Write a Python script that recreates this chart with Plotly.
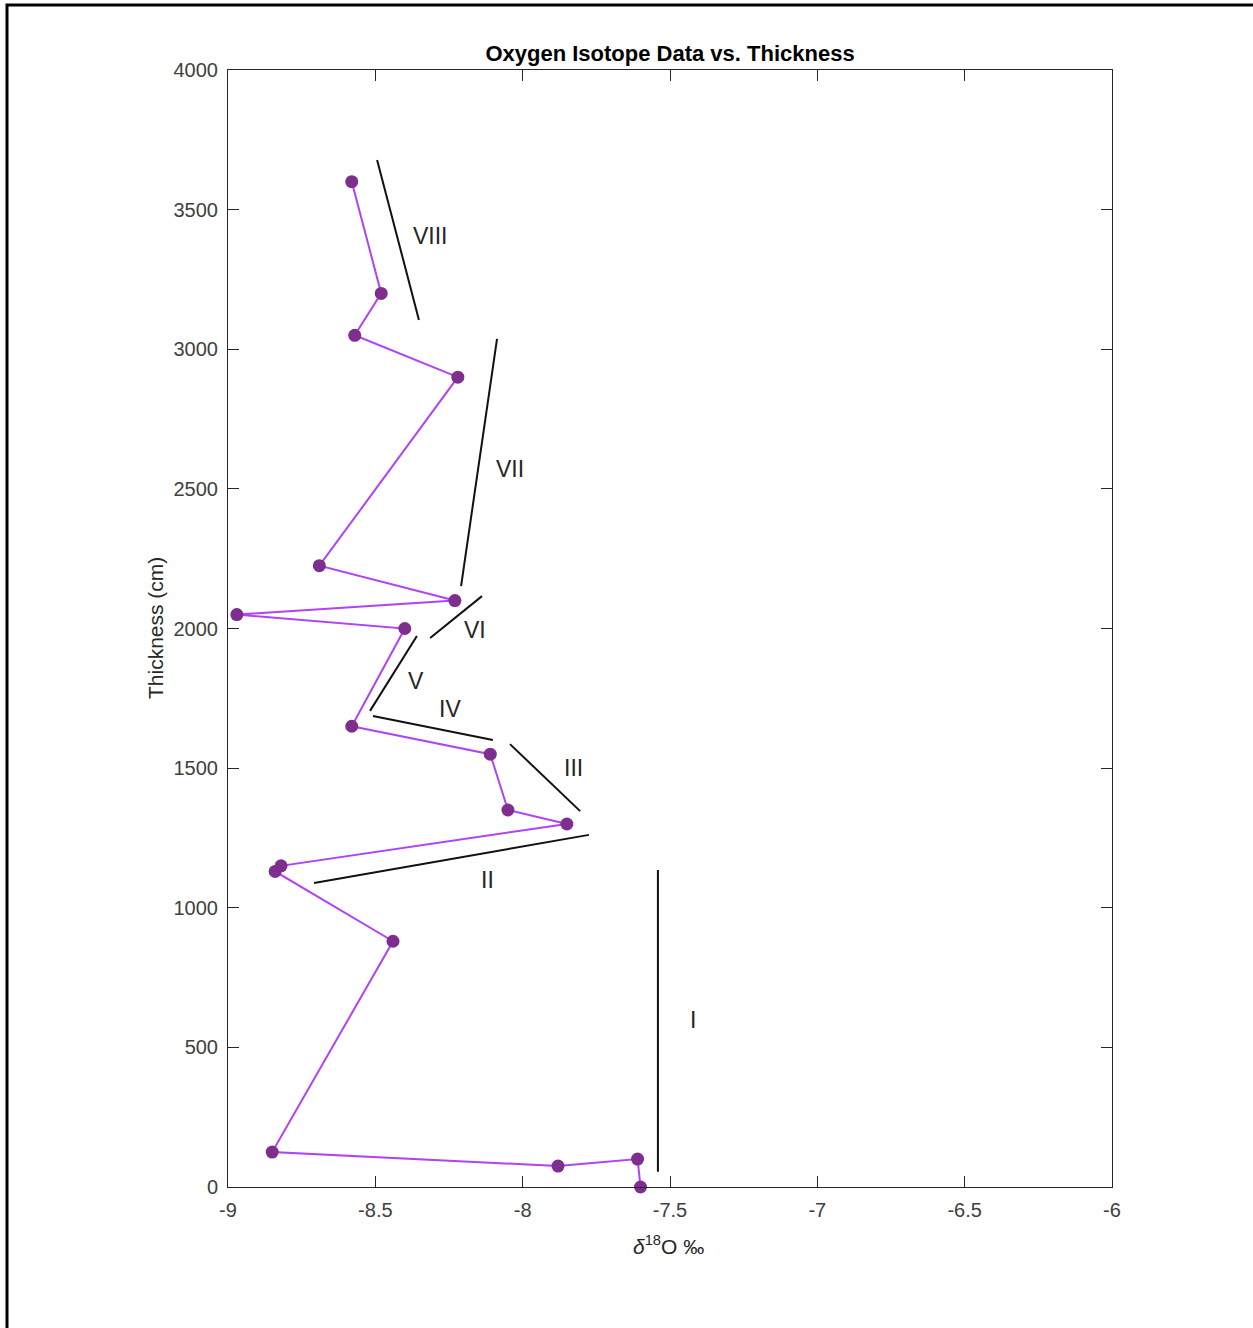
import plotly.graph_objects as go

# data: delta 18O (permil) vs thickness (cm)
d18o = [-7.60, -7.61, -7.88, -8.85, -8.44, -8.84, -8.82, -7.85, -8.05, -8.11,
        -8.58, -8.40, -8.97, -8.23, -8.69, -8.22, -8.57, -8.48, -8.58]
thickness = [0, 100, 75, 125, 880, 1130, 1150, 1300, 1350, 1550,
             1650, 2000, 2050, 2100, 2225, 2900, 3050, 3200, 3600]

# interval marker lines (x0, y0, x1, y1) and labels
seg_names = ["I", "II", "III", "IV", "V", "VI", "VII", "VIII"]
seg_x0 = [-7.541, -8.708, -8.043, -8.508, -8.518, -8.314, -8.209, -8.494]
seg_y0 = [55, 1089, 1586, 1687, 1705, 1966, 2152, 3678]
seg_x1 = [-7.541, -7.775, -7.805, -8.101, -8.359, -8.138, -8.087, -8.352]
seg_y1 = [1135, 1261, 1346, 1601, 1973, 2116, 3037, 3105]
label_x = [-7.422, -8.118, -7.826, -8.247, -8.362, -8.162, -8.043, -8.314]
label_y = [598, 1099, 1500, 1712, 1812, 1995, 2571, 3405]

x_ticks = [-9, -8.5, -8, -7.5, -7, -6.5, -6]
y_ticks = [0, 500, 1000, 1500, 2000, 2500, 3000, 3500, 4000]

FONT = "Liberation Sans"
AX = "#262626"

fig = go.Figure()
for i in range(len(seg_names)):
    fig.add_trace(go.Scatter(x=[seg_x0[i], seg_x1[i]], y=[seg_y0[i], seg_y1[i]],
                             mode="lines", line=dict(color="#111111", width=2),
                             showlegend=False, hoverinfo="skip"))
fig.add_trace(go.Scatter(x=d18o, y=thickness, mode="lines+markers",
                         line=dict(color="#b042f7", width=2),
                         marker=dict(color="#7e2f8e", size=13),
                         cliponaxis=False, showlegend=False))

for i in range(len(seg_names)):
    fig.add_annotation(x=label_x[i], y=label_y[i], text=seg_names[i], showarrow=False,
                       font=dict(family=FONT, size=23, color="#262626"))

fig.add_annotation(xref="paper", yref="paper", x=(668 - 228) / 884, y=(1187 - 1245) / 1117,
                   xanchor="center", yanchor="middle",
                   text="<i>δ</i><sup>18</sup>O ‰", showarrow=False,
                   font=dict(family=FONT, size=21, color="#262626"))
fig.add_annotation(xref="paper", yref="paper", x=(155 - 228) / 884, y=(1187 - 628) / 1117,
                   xanchor="center", yanchor="middle",
                   text="Thickness (cm)", textangle=-90, showarrow=False,
                   font=dict(family=FONT, size=21, color="#262626"))

fig.add_shape(type="rect", xref="paper", yref="paper",
              x0=(7 - 228) / 884, x1=2.0, y0=-1.0, y1=(1187 - 5) / 1117,
              line=dict(color="black", width=3), fillcolor="rgba(0,0,0,0)")

axis_common = dict(showline=True, linecolor=AX, linewidth=1, mirror="ticks",
                   ticks="inside", ticklen=11, tickcolor=AX, tickwidth=1,
                   showgrid=False, zeroline=False, ticklabelstandoff=5,
                   tickfont=dict(family=FONT, size=20, color="#404040"))

fig.update_layout(
    width=1253, height=1328,
    margin=dict(l=228, r=141, t=70, b=141),
    paper_bgcolor="white", plot_bgcolor="white",
    title=dict(text="<b>Oxygen Isotope Data vs. Thickness</b>", x=670 / 1253, xanchor="center",
               y=1 - 53 / 1328, yanchor="middle", yref="container",
               font=dict(family=FONT, size=22, color="black")),
    xaxis=dict(range=[-9, -6], tickvals=x_ticks, ticktext=[str(v) for v in x_ticks], **axis_common),
    yaxis=dict(range=[0, 4000], tickvals=y_ticks, **axis_common),
)

fig.write_html("out.html")
